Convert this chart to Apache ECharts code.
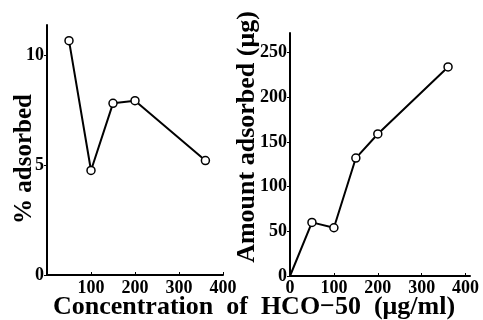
<!DOCTYPE html>
<html>
<head>
<meta charset="utf-8">
<script src="https://cdn.jsdelivr.net/npm/echarts@6/dist/echarts.min.js"></script>
<style>
  html, body { margin: 0; padding: 0; background: #fff; }
  #chart { width: 483px; height: 320px; }
</style>
</head>
<body>
<div id="chart"></div>
<script>
// concentration of HCO-50 (ug/ml)
const concPercent = [50, 100, 150, 200, 360];
const percentAdsorbed = [10.65, 4.75, 7.8, 7.92, 5.2];

const concAmount = [0, 50, 100, 150, 200, 360];
const amountAdsorbed = [0, 60, 54, 132, 159, 234];

const leftXTicks = [100, 200, 300, 400];
const leftYTicks = [0, 5, 10];
const rightXTicks = [0, 100, 200, 300, 400];
const rightYTicks = [0, 50, 100, 150, 200, 250];

const font = 'Liberation Serif';
const chart = echarts.init(document.getElementById('chart'));

const axisCommon = {
  axisLine: { lineStyle: { color: '#000', width: 2 } },
  splitLine: { show: false },
};
const labelStyle = { color: '#000', fontFamily: font, fontWeight: 'bold', fontSize: 18 };

const pair = (xs, ys) => xs.map((x, i) => [x, ys[i]]);

const option = {
  backgroundColor: '#fff',
  animation: false,
  grid: [
    { left: 47, top: 25, width: 176, bottom: 45 },
    { left: 290, top: 33, width: 180, bottom: 44 },
  ],
  // shared x-axis title under both panels
  graphic: [{
    type: 'text',
    x: 254, y: 307,
    style: {
      text: 'Concentration  of  HCO\u221250  (\u03bcg/ml)',
      fill: '#000',
      font: 'bold 26px "Liberation Serif"',
      textAlign: 'center',
      textVerticalAlign: 'middle',
    },
  }],
  xAxis: [
    {
      gridIndex: 0, type: 'value', min: 0, max: 400,
      ...axisCommon,
      axisTick: { inside: true, length: 3, lineStyle: { color: '#000' }, customValues: leftXTicks },
      axisLabel: { ...labelStyle, margin: 4, customValues: leftXTicks },
    },
    {
      gridIndex: 1, type: 'value', min: 0, max: 410,
      ...axisCommon,
      axisTick: { inside: true, length: 3, lineStyle: { color: '#000' }, customValues: rightXTicks },
      axisLabel: { ...labelStyle, margin: 3, customValues: rightXTicks },
    },
  ],
  yAxis: [
    {
      gridIndex: 0, type: 'value', min: 0, max: 11.36,
      ...axisCommon,
      axisTick: { length: 3, lineStyle: { color: '#000' }, customValues: leftYTicks },
      axisLabel: { ...labelStyle, margin: 3, customValues: leftYTicks },
      name: '% adsorbed',
      nameLocation: 'middle',
      nameGap: 10,
      nameMoveOverlap: false,
      nameRotate: 90,
      nameTextStyle: { color: '#000', fontFamily: font, fontWeight: 'bold', fontSize: 25, padding: [0, 18, 0, 0] },
    },
    {
      gridIndex: 1, type: 'value', min: 0, max: 272,
      ...axisCommon,
      axisTick: { length: 3, lineStyle: { color: '#000' }, customValues: rightYTicks },
      axisLabel: { ...labelStyle, margin: 3, customValues: rightYTicks },
      name: 'Amount adsorbed (\u03bcg)',
      nameLocation: 'middle',
      nameGap: 30,
      nameMoveOverlap: false,
      nameRotate: 90,
      nameTextStyle: { color: '#000', fontFamily: font, fontWeight: 'bold', fontSize: 26, padding: [0, 0, 0, 35] },
    },
  ],
  series: [
    {
      type: 'line', xAxisIndex: 0, yAxisIndex: 0,
      data: pair(concPercent, percentAdsorbed),
      symbol: 'circle', symbolSize: 8,
      lineStyle: { color: '#000', width: 2 },
      itemStyle: { color: '#fff', borderColor: '#000', borderWidth: 1.5 },
    },
    {
      type: 'line', xAxisIndex: 1, yAxisIndex: 1,
      data: pair(concAmount, amountAdsorbed).map((d, i) => i === 0 ? { value: d, symbol: 'none' } : d),
      symbol: 'circle', symbolSize: 8,
      lineStyle: { color: '#000', width: 2 },
      itemStyle: { color: '#fff', borderColor: '#000', borderWidth: 1.5 },
    },
  ],
};

chart.setOption(option);
</script>
</body>
</html>
